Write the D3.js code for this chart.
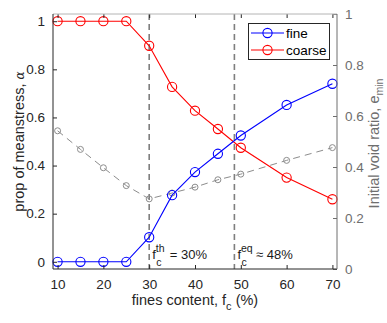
<!DOCTYPE html>
<html>
<head>
<meta charset="utf-8">
<script src="https://cdn.jsdelivr.net/npm/d3@7"></script>
<style>
  html, body { margin: 0; padding: 0; background: #fff; }
  svg { display: block; font-family: "Liberation Sans", Arial, sans-serif; }
</style>
</head>
<body>
<svg id="chart" width="387" height="323"></svg>
<script>
// Fines content (%) at each sample
const finesContent = [10, 15, 20, 25, 30, 35, 40, 45, 50, 60, 70];
// Proportion of mean stress carried by fine and coarse grains
const fineShare   = [0, 0, 0, 0, 0.102, 0.277, 0.373, 0.449, 0.525, 0.652, 0.740];
const coarseShare = [1, 1, 1, 1, 0.898, 0.727, 0.628, 0.552, 0.474, 0.350, 0.260];
// Initial void ratio e_min (right axis)
const voidRatio   = [0.542, 0.469, 0.397, 0.327, 0.275, 0.298, 0.321, 0.350, 0.372, 0.426, 0.476];
// Threshold and equivalent fines contents
const fcThreshold = 30;
const fcEquivalent = 48.6;
const xTicks = [10, 20, 30, 40, 50, 60, 70];
const yTicks = [0, 0.2, 0.4, 0.6, 0.8, 1];
const yRightTicks = [0, 0.2, 0.4, 0.6, 0.8, 1];

const svg = d3.select("#chart");
const L = 53, R = 337, T = 14, B = 269;

const x = d3.scaleLinear().domain([9, 71]).range([L, R]);
const y = d3.scaleLinear().domain([-0.03, 1.03]).range([B, T]);
const y2 = d3.scaleLinear().domain([0, 1]).range([B, T]);

const rightColor = "#6e6e6e";
const fontSize = 13.5;

// Vertical reference lines
[fcThreshold, fcEquivalent].forEach(v => {
  svg.append("line")
    .attr("x1", x(v)).attr("x2", x(v))
    .attr("y1", T).attr("y2", B)
    .attr("stroke", "#7f7f7f").attr("stroke-width", 1.6)
    .attr("stroke-dasharray", "6,4");
});

// Void ratio series (dashed gray, right axis)
const lineV = d3.line().x((d, i) => x(finesContent[i])).y(d => y2(d));
svg.append("path").datum(voidRatio)
  .attr("d", lineV).attr("fill", "none")
  .attr("stroke", "#8c8c8c").attr("stroke-width", 1)
  .attr("stroke-dasharray", "7,5");
svg.selectAll(".vmark").data(voidRatio).enter().append("circle")
  .attr("cx", (d, i) => x(finesContent[i])).attr("cy", d => y2(d))
  .attr("r", 3).attr("fill", "none").attr("stroke", "#8c8c8c").attr("stroke-width", 1);

// Stress share series
const lineA = d3.line().x((d, i) => x(finesContent[i])).y(d => y(d));
function drawSeries(values, color) {
  svg.append("path").datum(values)
    .attr("d", lineA).attr("fill", "none")
    .attr("stroke", color).attr("stroke-width", 1.1);
  svg.selectAll(null).data(values).enter().append("circle")
    .attr("cx", (d, i) => x(finesContent[i])).attr("cy", d => y(d))
    .attr("r", 4.6).attr("fill", "none").attr("stroke", color).attr("stroke-width", 1.1);
}
drawSeries(coarseShare, "#ff0000");
drawSeries(fineShare, "#0000ff");

// Axes (ticks pointing inward)
const tickLen = 4;
const fmt = d => d === 0 || d === 1 ? d3.format("d")(d) : d3.format(".1f")(d);
const bottomAxis = svg.append("g").attr("transform", `translate(0,${B})`)
  .call(d3.axisBottom(x).tickValues(xTicks).tickSize(-tickLen).tickPadding(10).tickFormat(d3.format("d")));
const topAxis = svg.append("g").attr("transform", `translate(0,${T})`)
  .call(d3.axisTop(x).tickValues(xTicks).tickSize(-tickLen).tickFormat(""));
const leftAxis = svg.append("g").attr("transform", `translate(${L},0)`)
  .call(d3.axisLeft(y).tickValues(yTicks).tickSize(-tickLen).tickPadding(8).tickFormat(fmt));
const rightAxis = svg.append("g").attr("transform", `translate(${R},0)`)
  .call(d3.axisRight(y2).tickValues(yRightTicks).tickSize(-tickLen).tickPadding(8).tickFormat(fmt));

[bottomAxis, leftAxis].forEach(g => {
  g.selectAll(".tick line").attr("stroke", "#262626");
  g.selectAll("text").attr("fill", "#262626").style("font-size", fontSize + "px")
    .style("font-family", '"Liberation Sans", Arial, sans-serif');
});
topAxis.selectAll(".tick line").attr("stroke", "#262626");
rightAxis.selectAll(".tick line").attr("stroke", rightColor);
rightAxis.selectAll("text").attr("fill", rightColor).style("font-size", fontSize + "px")
  .style("font-family", '"Liberation Sans", Arial, sans-serif');
// Plain frame lines instead of the axis domain paths
[bottomAxis, topAxis, leftAxis, rightAxis].forEach(g => g.select("path.domain").remove());
svg.append("line").attr("x1", L).attr("x2", R).attr("y1", T).attr("y2", T).attr("stroke", "#b4b4b4");
svg.append("line").attr("x1", L).attr("x2", R).attr("y1", B).attr("y2", B).attr("stroke", "#262626");
svg.append("line").attr("x1", L).attr("x2", L).attr("y1", T).attr("y2", B).attr("stroke", "#262626");
svg.append("line").attr("x1", R).attr("x2", R).attr("y1", T).attr("y2", B).attr("stroke", rightColor);

// Axis titles
const xl = svg.append("text").attr("x", x(40)).attr("y", 305)
  .attr("text-anchor", "middle").attr("fill", "#262626").style("font-size", "14.5px");
xl.append("tspan").text("fines content, f");
xl.append("tspan").attr("dy", 5).style("font-size", "11px").text("c");
xl.append("tspan").attr("dy", -5).text(" (%)");

const yl = svg.append("text").attr("transform", `translate(24,${(T + B) / 2}) rotate(-90)`)
  .attr("text-anchor", "middle").attr("fill", "#262626").style("font-size", "14.5px");
yl.append("tspan").text("prop of meanstress, ");
yl.append("tspan").style("font-style", "italic").style("font-family", '"DejaVu Serif", serif').style("font-size", "12px").text("α");

const yr = svg.append("text").attr("transform", `translate(379,${(T + B) / 2 + 2}) rotate(-90)`)
  .attr("text-anchor", "middle").attr("fill", rightColor).style("font-size", "14.5px");
yr.append("tspan").text("Initial void ratio, e");
yr.append("tspan").attr("dy", 4).style("font-size", "10.5px").text("min");

// Annotations for threshold and equivalent fines content
function annot(xv, sup, rest) {
  const x0 = x(xv) + 3;
  const t = svg.append("text").attr("x", x0).attr("y", 259)
    .attr("fill", "#1a1a1a").style("font-size", "13px");
  t.append("tspan").text("f");
  t.append("tspan").attr("dy", -7).style("font-size", "10.5px").text(sup);
  t.append("tspan").attr("x", x0 + 4).attr("dy", 14).style("font-size", "10.5px").text("c");
  t.append("tspan").attr("x", x0 + (sup === "th" ? 14 : 15)).attr("dy", -7).text(rest);
}
annot(fcThreshold, "th", " = 30%");
annot(fcEquivalent, "eq", " ≈ 48%");

// Legend
const lg = svg.append("g");
lg.append("rect").attr("x", 248.5).attr("y", 23.5).attr("width", 81).attr("height", 36)
  .attr("fill", "#fff").attr("stroke", "#262626").attr("stroke-width", 1);
const legendItems = [{ name: "fine", color: "#0000ff" }, { name: "coarse", color: "#ff0000" }];
legendItems.forEach((it, i) => {
  const ly = 33 + i * 17;
  lg.append("line").attr("x1", 251).attr("x2", 284).attr("y1", ly).attr("y2", ly)
    .attr("stroke", it.color).attr("stroke-width", 1.1);
  lg.append("circle").attr("cx", 267.5).attr("cy", ly).attr("r", 4.6)
    .attr("fill", "none").attr("stroke", it.color).attr("stroke-width", 1.1);
  lg.append("text").attr("x", 286).attr("y", ly + 4.5).attr("fill", "#000")
    .style("font-size", "13.5px").text(it.name);
});
</script>
</body>
</html>
